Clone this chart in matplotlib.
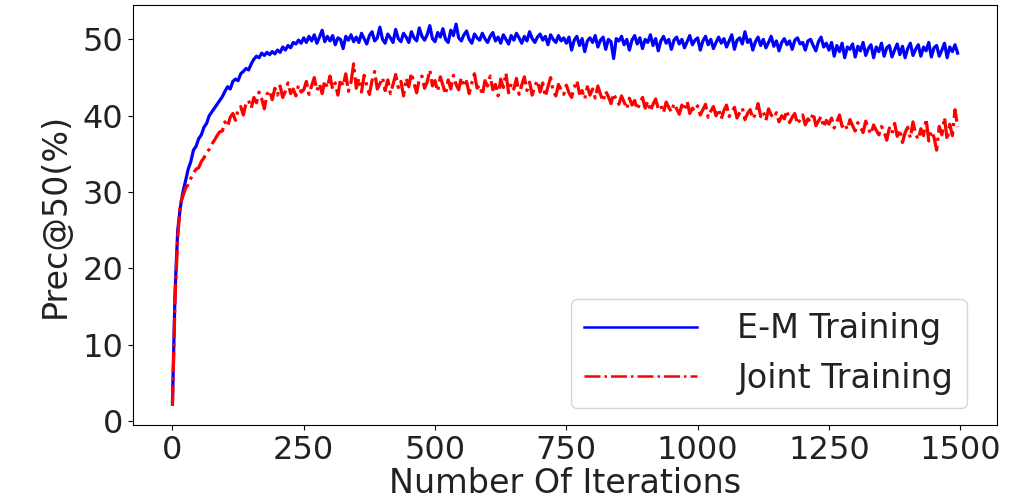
import matplotlib
matplotlib.use("Agg")
import matplotlib.pyplot as plt

# Iterations sampled every 5 steps (0 .. 1495)
iterations = list(range(0, 1500, 5))

em_training = [
    2.5, 17.0, 25.0, 28.0, 30.0, 31.5, 33.0, 34.0, 35.5, 36.0,
    37.0, 37.5, 38.5, 39.0, 40.0, 40.5, 41.0, 41.5, 42.0, 42.5,
    43.2, 43.8, 43.5, 44.5, 44.8, 44.6, 45.5, 45.8, 46.2, 46.0,
    46.8, 47.4, 47.8, 47.6, 48.2, 47.9, 48.3, 48.0, 48.4, 48.1,
    48.6, 48.3, 49.0, 48.6, 49.2, 48.9, 49.6, 49.4, 49.9, 49.5,
    50.2, 49.6, 50.4, 49.8, 50.6, 49.5, 50.3, 51.2, 49.7, 50.4,
    49.8, 50.5, 49.3, 50.2, 50.0, 48.8, 50.4, 49.9, 50.6, 49.7,
    50.3, 49.6, 50.8, 50.1, 49.4, 50.5, 51.0, 49.8, 50.2, 51.6,
    50.0, 49.5, 50.7, 50.2, 49.6, 51.3, 50.1, 49.7, 50.8, 50.3,
    49.6, 51.0, 50.2, 49.8, 51.5, 50.4, 49.9, 50.6, 51.8, 50.1,
    49.7, 50.9, 50.3, 51.4, 50.0, 49.6, 51.2, 50.5, 52.0, 50.2,
    49.8, 50.6, 51.1, 50.0, 49.5, 50.7, 50.2, 49.9, 50.8, 50.1,
    49.6, 50.4, 50.9, 49.8, 50.3, 49.5, 50.6, 50.0, 49.4, 50.5,
    49.9, 50.8, 50.2, 49.5, 50.4, 49.8, 51.0, 50.1, 49.6, 50.3,
    50.7, 49.9, 50.4, 49.3, 50.6, 50.0, 49.6, 50.5, 49.8, 50.2,
    49.5, 50.3, 48.6, 49.9, 50.4, 49.2, 50.1, 48.4, 49.8, 50.2,
    49.6, 50.5, 49.0, 49.9, 50.3, 48.7, 50.0, 49.7, 47.5, 50.1,
    49.8, 50.4, 49.3, 50.0, 48.6, 49.9, 50.5, 49.4, 50.2, 48.8,
    50.0, 49.6, 50.6, 49.2, 50.1, 48.5, 49.8, 50.4, 49.5, 50.0,
    48.7, 49.9, 50.3, 49.4, 50.0, 48.9, 49.7, 50.5, 49.3, 49.9,
    50.2, 48.6, 49.8, 50.4, 49.3, 50.0, 48.8, 49.6, 50.3, 49.5,
    50.1, 49.0, 49.8, 50.6, 48.7, 49.9, 50.2, 49.4, 51.0, 49.6,
    50.0, 48.6, 49.7, 50.3, 49.2, 50.0, 48.9, 49.6, 50.4, 49.1,
    49.8, 48.5, 49.6, 50.1, 49.3, 49.8, 48.7, 49.9, 50.2, 49.4,
    49.6, 48.6, 49.8, 50.0, 49.2, 48.5, 49.7, 50.3, 49.0, 49.5,
    48.6, 49.6, 47.8, 49.2, 48.4, 49.5, 47.6, 49.0, 48.7, 49.4,
    47.7, 49.1, 48.5, 49.6, 47.9, 48.8, 49.3, 47.6, 49.0, 48.4,
    49.5, 47.8, 48.9, 49.2, 47.7, 48.6, 49.4, 48.0, 49.1, 47.6,
    48.8, 49.5, 47.9, 48.7, 49.3, 47.8, 49.0, 48.5, 49.6, 47.7,
    48.9, 49.2, 47.8, 48.6, 49.5, 47.6, 49.0, 48.4, 49.3, 48.2,
]

joint_training = [
    2.0, 16.0, 24.0, 28.5, 29.5, 30.5, 31.0, 31.8, 32.5, 33.0,
    33.2, 34.0, 34.5, 35.2, 35.6, 36.3, 36.8, 37.4, 37.9, 38.0,
    39.2, 38.6, 39.8, 40.3, 39.4, 40.8, 41.2, 40.1, 41.6, 42.0,
    41.0, 42.4, 41.7, 43.1, 42.2, 40.9, 42.8, 43.3, 42.1, 43.6,
    42.7, 43.9, 42.4, 43.2, 44.3, 42.9, 43.5, 42.6, 44.0, 43.1,
    43.4, 44.5, 42.8, 43.9, 45.0, 43.3, 44.2, 42.9, 44.6, 43.7,
    45.2, 43.5, 44.3, 42.7, 44.8, 43.9, 45.5, 43.2, 44.4, 46.8,
    43.6, 44.9, 43.1, 45.3, 44.0, 42.8, 44.6, 45.8, 43.5, 44.2,
    45.0, 43.3, 44.7, 42.9, 44.1, 45.4, 43.7, 44.5, 42.6, 44.9,
    43.8, 45.6, 44.2, 43.0, 44.8, 45.2, 43.6, 44.4, 46.0, 43.9,
    44.6, 43.2, 45.1, 44.0, 42.8, 44.7, 43.5, 45.3, 44.1, 43.4,
    45.0, 43.8, 44.5, 42.9, 44.3, 45.5, 43.6, 44.0, 42.7, 44.6,
    43.9, 45.2, 43.4, 44.1, 42.6, 44.8, 43.7, 45.6, 43.0, 44.2,
    43.5, 44.9, 42.8, 44.0, 45.1, 43.3, 44.4, 42.7, 43.9, 44.6,
    43.1, 44.3, 42.5, 43.8, 45.0, 43.2, 42.6, 44.1, 43.4, 42.8,
    44.0, 43.0, 42.4, 43.7, 44.6, 42.9, 43.3, 42.2, 43.8, 42.7,
    43.5, 42.3, 43.9, 42.8, 41.9, 43.2, 42.5, 41.6, 42.9, 42.1,
    41.5, 42.6, 41.8, 40.9, 42.3, 41.4, 42.0, 40.8, 41.7, 42.4,
    41.0, 41.9, 40.6, 41.5, 42.2, 40.9, 41.3, 40.4, 41.8, 41.1,
    40.5, 41.6, 40.9, 40.2, 41.4, 40.7, 41.9, 40.3, 41.0, 40.6,
    41.3, 40.1, 40.8, 41.5, 39.8, 40.6, 41.2, 40.0, 40.9, 39.6,
    40.7, 41.4, 39.9, 40.5, 41.1, 39.7, 40.4, 41.0, 39.5, 40.3,
    40.8, 39.6, 40.2, 41.6, 39.9, 40.5, 39.4, 40.9, 40.1, 39.7,
    40.4, 39.2, 40.0, 39.6, 40.7, 39.1, 39.8, 40.3, 38.9, 39.5,
    40.1, 38.8, 39.6, 39.2, 40.4, 38.7, 39.3, 39.9, 38.5, 39.4,
    38.9, 39.7, 38.4, 39.2, 40.1, 38.6, 39.0, 38.2, 39.5, 38.7,
    38.0, 39.1, 38.5, 37.8, 39.3, 38.3, 37.6, 38.8, 38.1, 37.5,
    38.6, 37.9, 36.8, 38.4, 37.7, 39.0, 37.3, 38.2, 36.5, 37.8,
    38.5, 37.1, 39.2, 37.6, 36.9, 38.3, 37.4, 39.6, 36.7, 38.0,
    37.2, 35.5, 38.6, 37.5, 39.8, 36.8, 38.9, 37.4, 40.8, 38.5,
]

series_labels = ["E-M Training", "Joint Training"]
x_label = "Number Of Iterations"
y_label = "Prec@50(%)"

fig = plt.figure(figsize=(10.09, 5.03), dpi=100)
ax = fig.add_axes([0.132, 0.155, 0.856, 0.835])

ax.plot(iterations, em_training, color="b", linestyle="-", linewidth=2.3,
        label=series_labels[0])
ax.plot(iterations, joint_training, color="r", linestyle="-.", linewidth=2.3,
        label=series_labels[1])

ax.set_xlabel(x_label, fontsize=24, labelpad=1, color="#222222")
ax.set_ylabel(y_label, fontsize=24, labelpad=8, color="#222222")
ax.tick_params(axis="both", labelsize=23, labelcolor="#222222")
ax.set_xticks([0, 250, 500, 750, 1000, 1250, 1500])
ax.set_yticks([0, 10, 20, 30, 40, 50])

leg = ax.legend(loc="lower right", bbox_to_anchor=(0.965, 0.04),
                fontsize=24, handlelength=3.4, handletextpad=1.2,
                borderaxespad=0.0)
for t in leg.get_texts():
    t.set_color("#222222")
for line in leg.get_lines():
    line.set_linewidth(1.8)

fig.savefig("out.png", dpi=100)
